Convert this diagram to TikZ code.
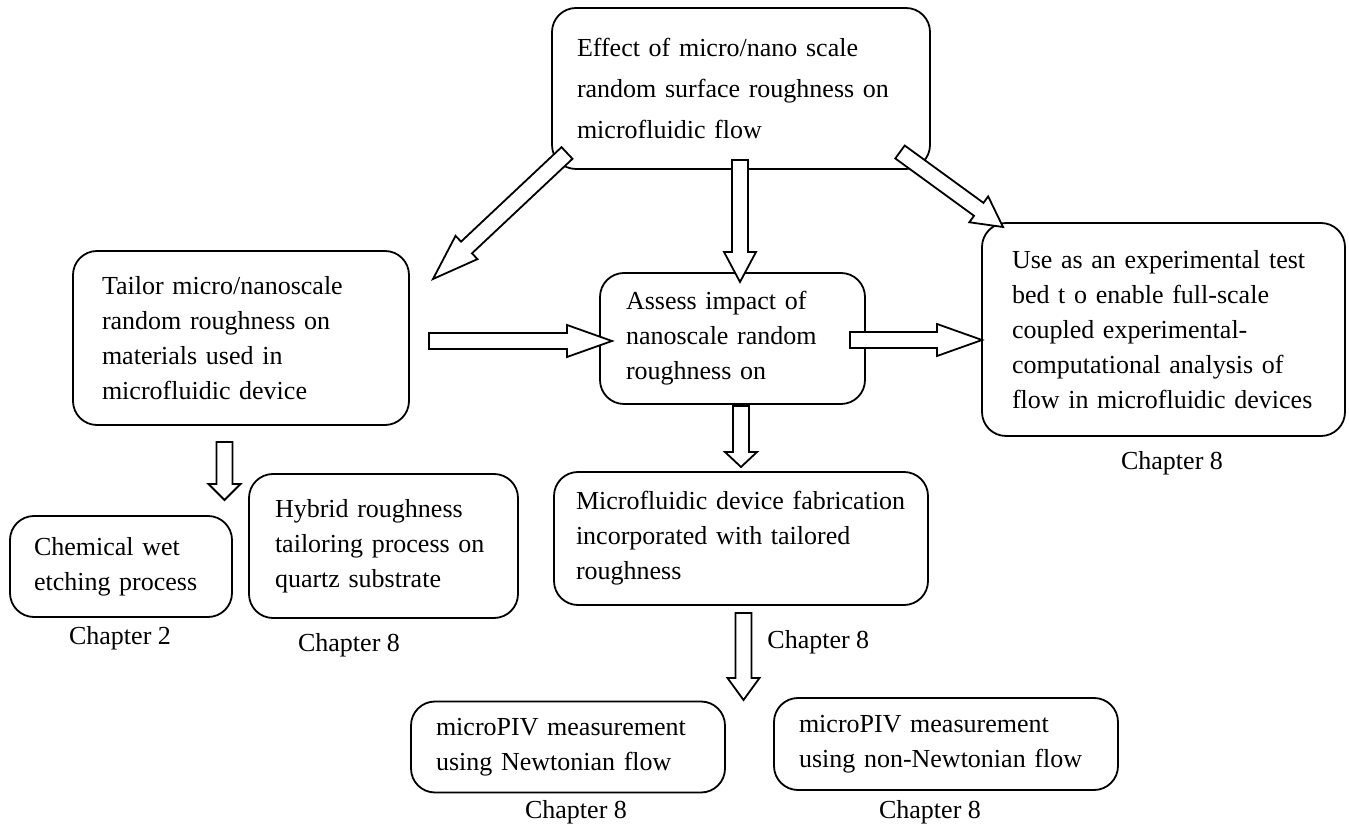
\documentclass[tikz,border=0pt]{standalone}
\usepackage{fontspec}
\setmainfont{Liberation Serif}
\usetikzlibrary{calc}

\tikzset{
  stagebox/.style={draw, line width=0.9pt, rounded corners=12pt, align=left,
    inner xsep=13pt, inner ysep=0pt, font=\fontsize{13}{17.5}\selectfont},
  chaplabel/.style={inner sep=0pt, font=\fontsize{13}{17.5}\selectfont},
  hollowarrow/.style={draw, line width=0.9pt, fill=white, line join=miter}
}

% hollow block arrow: tail, tip, head length
\newcommand{\blockarr}[3]{%
  \coordinate (hb) at ($(#2)!#3!(#1)$);
  \draw[hollowarrow] ($(#1)!4pt!90:(#2)$) -- ($(hb)!4pt!-90:(#1)$) -- ($(hb)!8pt!-90:(#1)$)
    -- (#2) -- ($(hb)!8pt!90:(#1)$) -- ($(hb)!4pt!90:(#1)$) -- ($(#1)!4pt!-90:(#2)$) -- cycle;
}

\begin{document}
\begin{tikzpicture}[x=0.5pt, y=-0.5pt]
  \useasboundingbox (0,0) rectangle (1349,833);

  % boxes
  \node[stagebox, inner xsep=12.5pt, text width=164pt, minimum height=80.5pt,
    font=\fontsize{13}{20.5}\selectfont] (effect) at (741,88.5)
    {Effect of micro/nano scale\\random surface roughness on\\microfluidic flow};
  \node[stagebox, inner xsep=14.5pt, text width=139pt, minimum height=87pt] (tailor) at (241,338)
    {Tailor micro/nanoscale\\random roughness on\\materials used in\\microfluidic device};
  \node[stagebox, text width=106.5pt, minimum height=65.5pt] (assess) at (732.5,338.5)
    {Assess impact of\\nanoscale random\\roughness on};
  \node[stagebox, inner xsep=15pt, text width=151.5pt, minimum height=106.5pt] (usebed) at (1163.5,329.5)
    {Use as an experimental test\\bed t o enable full-scale\\coupled experimental-\\computational analysis of\\flow in microfluidic devices};
  \node[stagebox, inner xsep=12pt, text width=87pt, minimum height=50.5pt] (chemetch) at (121,566.5)
    {Chemical wet\\etching process};
  \node[stagebox, text width=108.5pt, minimum height=72pt] (hybrid) at (383.5,546)
    {Hybrid roughness\\tailoring process on\\quartz substrate};
  \node[stagebox, inner xsep=11pt, text width=165pt, minimum height=66.5pt] (fabric) at (741,538.5)
    {Microfluidic device fabrication\\incorporated with tailored\\roughness};
  \node[stagebox, inner xsep=12.5pt, text width=132pt, minimum height=45.5pt] (newton) at (568,747)
    {microPIV measurement\\using Newtonian flow};
  \node[stagebox, inner xsep=12.5pt, text width=147pt, minimum height=46pt] (nonnewton) at (946,744)
    {microPIV measurement\\using non-Newtonian flow};

  % chapter labels
  \node[chaplabel] (ch-etch) at (120,638) {Chapter 2};
  \node[chaplabel] (ch-hybrid) at (349,645) {Chapter 8};
  \node[chaplabel] (ch-usebed) at (1172,463) {Chapter 8};
  \node[chaplabel, anchor=west] (ch-fabric) at (767,642) {Chapter 8};
  \node[chaplabel] (ch-newton) at (576,812) {Chapter 8};
  \node[chaplabel] (ch-nonnewton) at (930,812) {Chapter 8};

  % arrow ends
  \coordinate (e1) at (567,153);   \coordinate (t1) at (433,279);
  \coordinate (e2) at (740,160);   \coordinate (a2) at (740,282);
  \coordinate (e3) at (900,152);   \coordinate (u3) at (1003,227);
  \coordinate (t4) at (429,341);   \coordinate (a4) at (612,341);
  \coordinate (a5) at (850,340);   \coordinate (u5) at (982,340);
  \coordinate (t6) at (224.5,442); \coordinate (c6) at (224.5,500);
  \coordinate (a7) at (741,406);   \coordinate (f7) at (741,467);
  \coordinate (f8) at (743.5,613); \coordinate (n8) at (743.5,700);

  % block arrows
  \blockarr{e1}{t1}{23pt}
  \blockarr{e2}{a2}{15pt}
  \blockarr{e3}{u3}{15pt}
  \blockarr{t4}{a4}{22.5pt}
  \blockarr{a5}{u5}{22.5pt}
  \blockarr{t6}{c6}{8pt}
  \blockarr{a7}{f7}{7.5pt}
  \blockarr{f8}{n8}{11pt}
\end{tikzpicture}
\end{document}
